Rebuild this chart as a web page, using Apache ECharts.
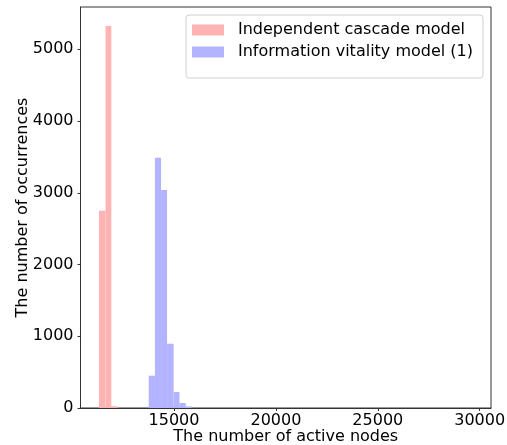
<!DOCTYPE html>
<html>
<head>
<meta charset="utf-8">
<script src="https://cdn.jsdelivr.net/npm/echarts@6/dist/echarts.min.js"></script>
<style>html,body{margin:0;padding:0;background:#fff}#c{width:507px;height:445px}</style>
</head>
<body>
<div id="c"></div>
<script>
// Bin edges (number of active nodes) and counts
const icEdges = [11320, 11640, 11925, 12235];
const icCounts = [2748, 5325, 25];
const ivEdges = [13760, 14065, 14365, 14660, 14980, 15270, 15575, 15870];
const ivCounts = [450, 3490, 3040, 896, 223, 70, 22];
const xTicks = [15000, 20000, 25000, 30000];
const yTicks = [0, 1000, 2000, 3000, 4000, 5000];
const seriesNames = ['Independent cascade model', 'Information vitality model (1)'];

function bins(edges, counts) {
  return counts.map((c, i) => [edges[i], edges[i + 1], c]);
}
function renderBar(params, api) {
  const p0 = api.coord([api.value(0), api.value(2)]);
  const p1 = api.coord([api.value(1), 0]);
  return {
    type: 'rect',
    shape: { x: p0[0], y: p0[1], width: p1[0] - p0[0], height: p1[1] - p0[1] },
    style: { fill: api.visual('color') }
  };
}
const font = 'DejaVu Sans';
const fs = 16;
const chart = echarts.init(document.getElementById('c'));
chart.setOption({
  animation: false,
  grid: { left: 80.5, right: 16, top: 7, bottom: 37, show: true, borderColor: '#333', borderWidth: 1,
          backgroundColor: 'transparent', containLabel: false, outerBoundsMode: 'none' },
  legend: {
    orient: 'vertical', left: 186, top: 15, width: 297,
    padding: [7, 10, 18, 6], itemGap: 6,
    backgroundColor: '#fff', borderColor: '#d0d0d0', borderWidth: 1, borderRadius: 3,
    icon: 'rect', itemWidth: 32, itemHeight: 11,
    textStyle: { fontFamily: font, fontSize: fs, color: '#000', padding: [0, 0, 0, 9] },
    data: seriesNames
  },
  xAxis: {
    type: 'value', min: 10412, max: 30555,
    name: 'The number of active nodes', nameLocation: 'middle', nameGap: 21, nameMoveOverlap: false,
    nameTextStyle: { fontFamily: font, fontSize: fs, color: '#000' },
    axisLine: { show: true, lineStyle: { color: '#333', width: 1 } },
    axisTick: { show: true, length: 3, lineStyle: { color: '#333' }, customValues: xTicks },
    axisLabel: { fontFamily: font, fontSize: fs, color: '#000', margin: 5, customValues: xTicks,
                 formatter: v => String(v) },
    splitLine: { show: false }
  },
  yAxis: {
    type: 'value', min: 0, max: 5590,
    name: 'The number of occurrences', nameLocation: 'middle', nameGap: 50, nameMoveOverlap: false,
    nameTextStyle: { fontFamily: font, fontSize: fs, color: '#000' },
    axisLine: { show: true, lineStyle: { color: '#333', width: 1 } },
    axisTick: { show: true, length: 3, lineStyle: { color: '#333' }, customValues: yTicks },
    axisLabel: { fontFamily: font, fontSize: fs, color: '#000', margin: 7, customValues: yTicks,
                 formatter: v => String(v) },
    splitLine: { show: false }
  },
  series: [
    { name: seriesNames[0], type: 'custom', renderItem: renderBar, itemStyle: { color: '#ffb3b3' },
      encode: { x: [0, 1], y: 2 }, data: bins(icEdges, icCounts) },
    { name: seriesNames[1], type: 'custom', renderItem: renderBar, itemStyle: { color: '#b3b3ff' },
      encode: { x: [0, 1], y: 2 }, data: bins(ivEdges, ivCounts) }
  ]
});
</script>
</body>
</html>
